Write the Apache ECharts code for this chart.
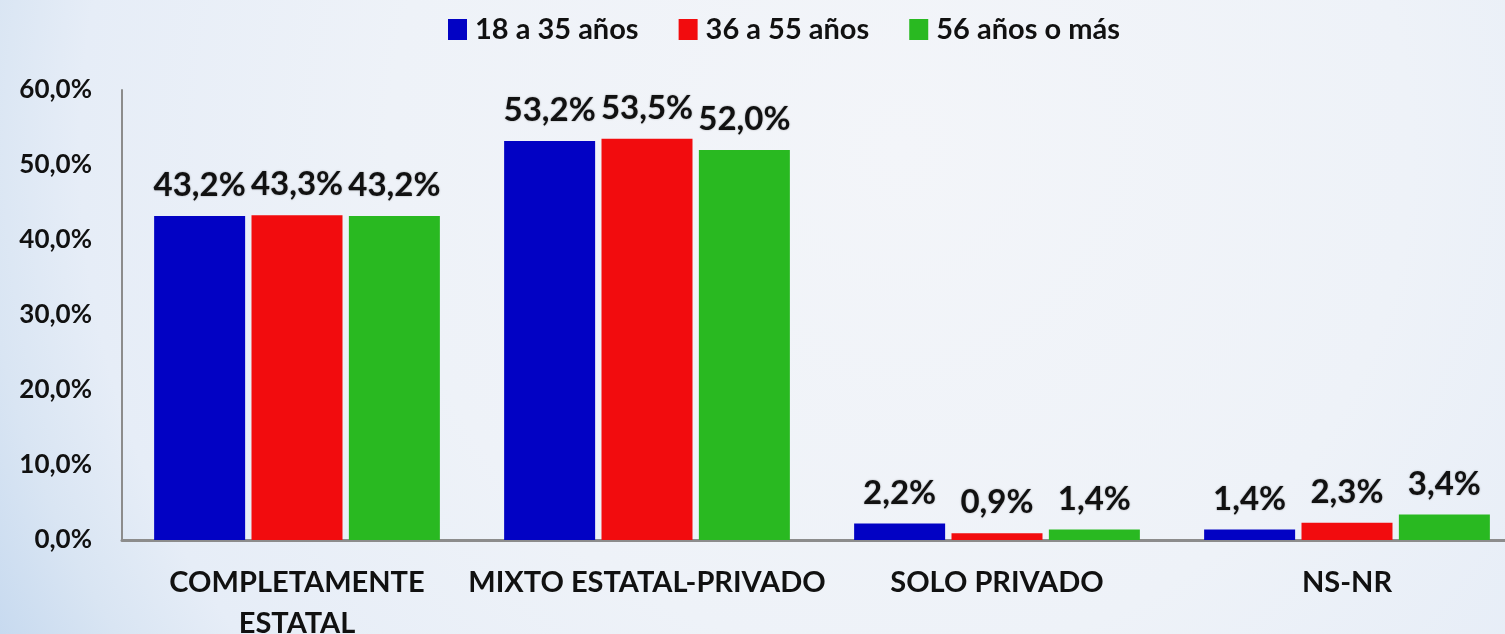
<!DOCTYPE html>
<html>
<head>
<meta charset="utf-8">
<script src="https://cdn.jsdelivr.net/npm/echarts@6/dist/echarts.min.js"></script>
<style>
  html, body { margin: 0; padding: 0; }
  /* fondo claro con tono azul hacia la esquina inferior izquierda */
  #chart {
    width: 1505px; height: 634px;
    background: radial-gradient(circle at 900px 150px,
      #f3f5f9 0px, #eef2f8 510px, #e6edf7 820px, #d9e5f3 920px, #c6d9ef 1030px);
  }
</style>
</head>
<body>
<div id="chart"></div>
<script>
// datos
var categories = ['COMPLETAMENTE\nESTATAL', 'MIXTO ESTATAL-PRIVADO', 'SOLO PRIVADO', 'NS-NR'];
var seriesNames = ['18 a 35 años', '36 a 55 años', '56 años o más'];
var jovenes = [43.2, 53.2, 2.2, 1.4];
var adultos = [43.3, 53.5, 0.9, 2.3];
var mayores = [43.2, 52.0, 1.4, 3.4];
var colors = ['#0202c4', '#f20c0e', '#29b921'];

var FONT = 'Lato';

function pct(v) {
    return v.toFixed(1).replace('.', ',') + '%';
}

function makeSeries(name, values, color) {
    return {
        name: name,
        type: 'bar',
        barWidth: 91,
        barGap: '7%',
        data: values,
        itemStyle: { color: color },
        label: {
            show: true,
            position: 'top',
            distance: 14,
            formatter: function (p) { return pct(p.value); },
            fontFamily: FONT,
            fontWeight: 'bold',
            fontSize: 33,
            lineHeight: 33,
            color: '#111',
            textShadowColor: 'rgba(0,0,0,0.35)',
            textShadowBlur: 2
        }
    };
}

var chart = echarts.init(document.getElementById('chart'));
var option = {
    backgroundColor: 'transparent',
    animation: false,
    legend: {
        left: 443,
        top: 10,
        itemWidth: 19,
        itemHeight: 21,
        itemGap: 40,
        icon: 'rect',
        textStyle: {
            fontFamily: FONT,
            fontWeight: 'bold',
            fontSize: 29,
            color: '#111',
            padding: [0, 0, 0, 3]
        },
        data: seriesNames
    },
    grid: {
        left: 122,
        top: 90,
        width: 1400,
        bottom: 94,
        containLabel: false,
        outerBoundsMode: 'none'
    },
    xAxis: {
        type: 'category',
        data: categories,
        axisTick: { show: false },
        axisLine: { lineStyle: { color: '#8c8c8c', width: 3 } },
        axisLabel: {
            interval: 0,
            margin: 22,
            fontFamily: FONT,
            fontWeight: 'bold',
            fontSize: 29,
            lineHeight: 41,
            color: '#111'
        }
    },
    yAxis: {
        type: 'value',
        min: 0,
        max: 60,
        interval: 10,
        splitLine: { show: false },
        axisTick: { show: false },
        axisLine: { show: true, lineStyle: { color: '#8c8c8c', width: 2 } },
        axisLabel: {
            margin: 30,
            formatter: pct,
            fontFamily: FONT,
            fontWeight: 'bold',
            fontSize: 26,
            color: '#111'
        }
    },
    series: [
        makeSeries(seriesNames[0], jovenes, colors[0]),
        makeSeries(seriesNames[1], adultos, colors[1]),
        makeSeries(seriesNames[2], mayores, colors[2])
    ]
};
chart.setOption(option);
</script>
</body>
</html>
